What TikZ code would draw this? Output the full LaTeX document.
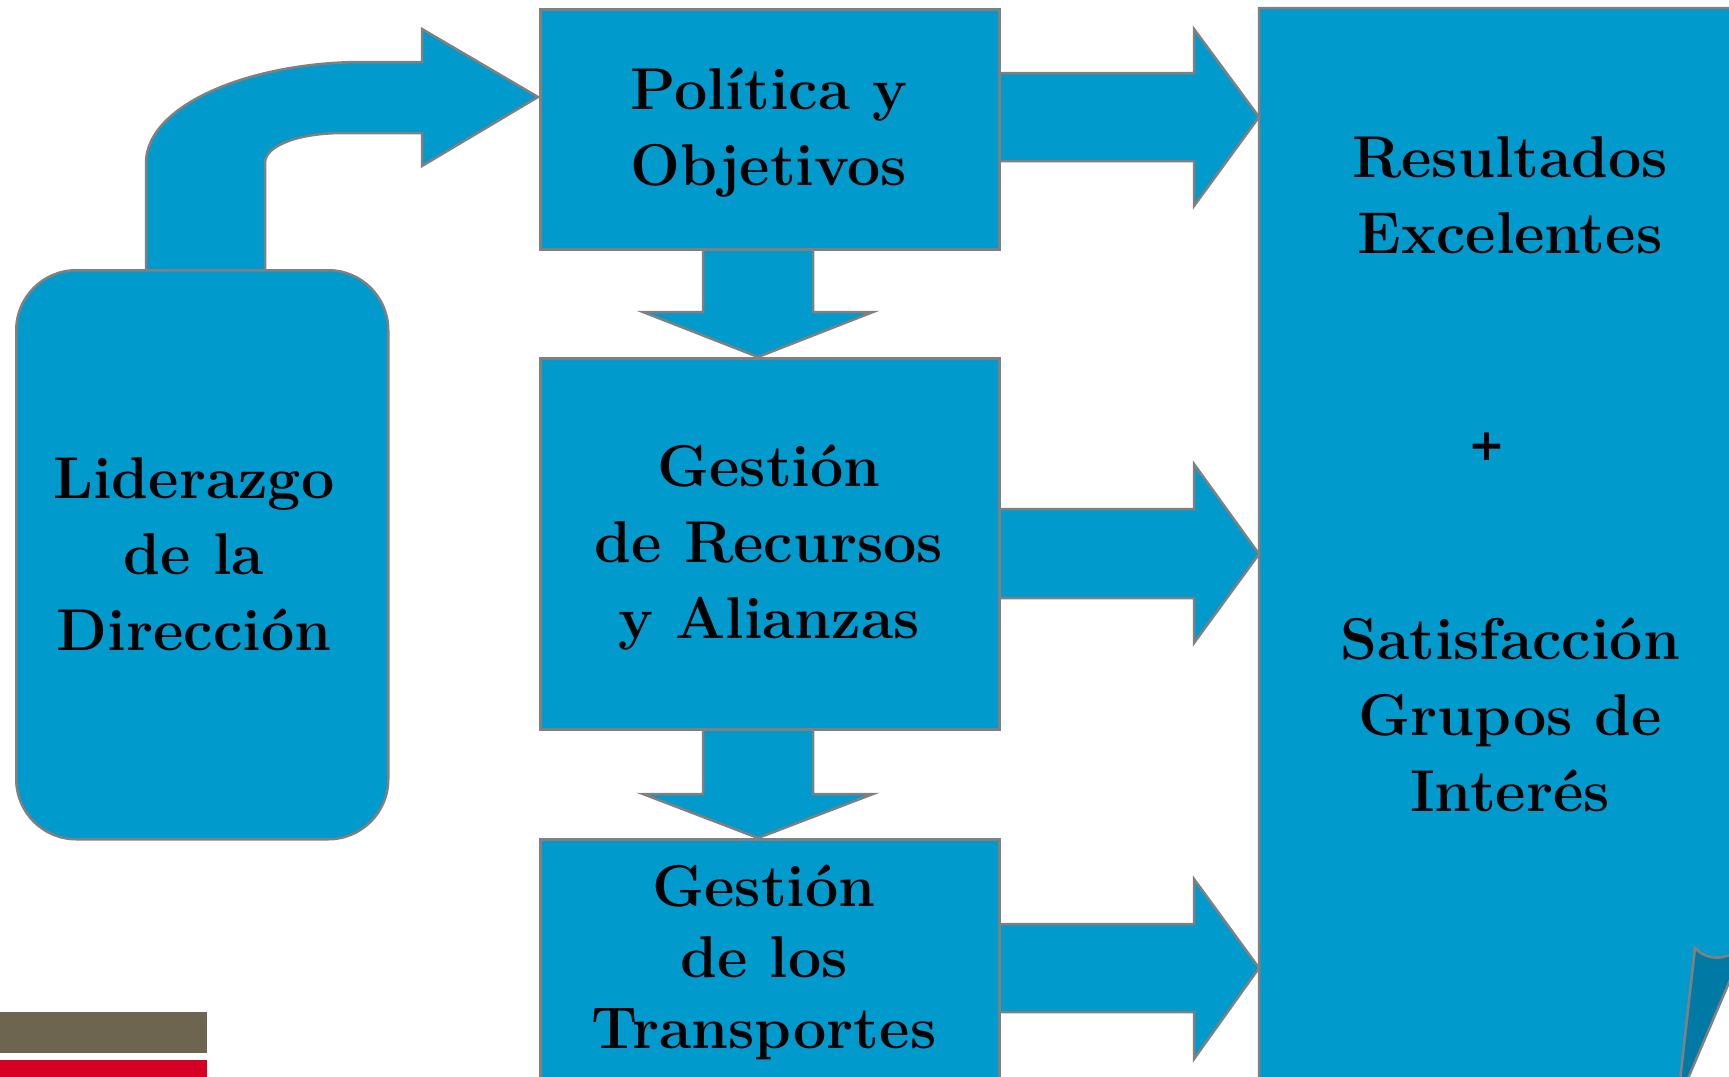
\documentclass[tikz,border=0pt]{standalone}
\usepackage{fontspec}
\usepackage{tikz}
\usetikzlibrary{positioning}
\newfontfamily\plusfont{DejaVu Serif}
\definecolor{efqmblue}{RGB}{0,154,205}
\definecolor{curlblue}{RGB}{0,121,164}
\definecolor{edgegray}{RGB}{128,128,128}
\definecolor{bargray}{RGB}{110,101,81}
\definecolor{barred}{RGB}{213,0,35}
\tikzset{
  blk/.style={fill=efqmblue,draw=edgegray,line width=2.5pt},
  boxnode/.style={blk,anchor=north west,inner sep=0pt},
  lbl/.style={font=\fontsize{59}{76}\selectfont\bfseries,align=center,inner sep=0pt}
}
\begin{document}
\begin{tikzpicture}[x=1pt,y=-1pt]
\useasboundingbox (0,0) rectangle (1729,1076);
\clip (0,0) rectangle (1729,1076);

% block arrows to the results
\filldraw[blk] (990,73) -- (1194,73) -- (1194,29) -- (1259,117) -- (1194,206) -- (1194,161) -- (990,161) -- cycle;
\filldraw[blk] (990,509) -- (1194,509) -- (1194,464) -- (1259,554) -- (1194,643) -- (1194,598) -- (990,598) -- cycle;
\filldraw[blk] (990,924) -- (1194,924) -- (1194,879) -- (1259,968) -- (1194,1059) -- (1194,1012) -- (990,1012) -- cycle;

% down arrows
\filldraw[blk] (703,240) -- (703,312) -- (643,312) -- (758,357) -- (873,312) -- (813,312) -- (813,240) -- cycle;
\filldraw[blk] (703,720) -- (703,794) -- (643,794) -- (758,838) -- (873,794) -- (813,794) -- (813,720) -- cycle;

% bent arrow from the leadership box
\filldraw[blk] (146,275) -- (146,163) .. controls (146,105) and (250,62) .. (363,62)
  -- (422,62) -- (422,29) -- (538,97) -- (422,166) -- (422,133) -- (343,133)
  .. controls (300,133) and (265,145) .. (265,163) -- (265,275) -- cycle;

% boxes
\node[boxnode,minimum width=459pt,minimum height=240pt] (pol) at (539,8) {};
\node[boxnode,minimum width=459pt,minimum height=371pt] (rec) at (539,357) {};
\node[boxnode,minimum width=459pt,minimum height=260pt] (tra) at (539,838) {};
\node[boxnode,rounded corners=60pt,minimum width=372pt,minimum height=569pt] (lid) at (15,269) {};

% results sheet with curled corner
\filldraw[blk] (1259,1090) -- (1259,8) -- (1745,8) -- (1745,945)
  .. controls (1735,955) and (1712,966) .. (1695,948) -- (1679,1090) -- cycle;
\filldraw[fill=curlblue,draw=edgegray,line width=2.5pt] (1695,948)
  .. controls (1712,966) and (1735,955) .. (1745,945) -- (1683,1090) -- (1679,1090) -- cycle;

% texts
\node[lbl] (tpol) at (769,133) {Política y\\Objetivos};
\node[lbl] (trec) at (769,548) {Gestión\\de Recursos\\y Alianzas};
\node[lbl,font=\fontsize{59}{71}\selectfont\bfseries] (ttra) at (764,962) {Gestión\\de los\\Transportes};
\node[lbl] (tlid) at (194,554) {Liderazgo\\de la\\Dirección};
\node[lbl] (tres) at (1510,195) {Resultados\\Excelentes};
\node[lbl,font=\fontsize{44}{50}\selectfont\plusfont\bfseries] (tmas) at (1487,447) {+};
\node[lbl] (tsat) at (1510,715) {Satisfacción\\Grupos de\\Interés};

% corner bars
\fill[bargray] (0,1012) rectangle (207,1053);
\fill[barred] (0,1060) rectangle (207,1080);
\end{tikzpicture}
\end{document}
